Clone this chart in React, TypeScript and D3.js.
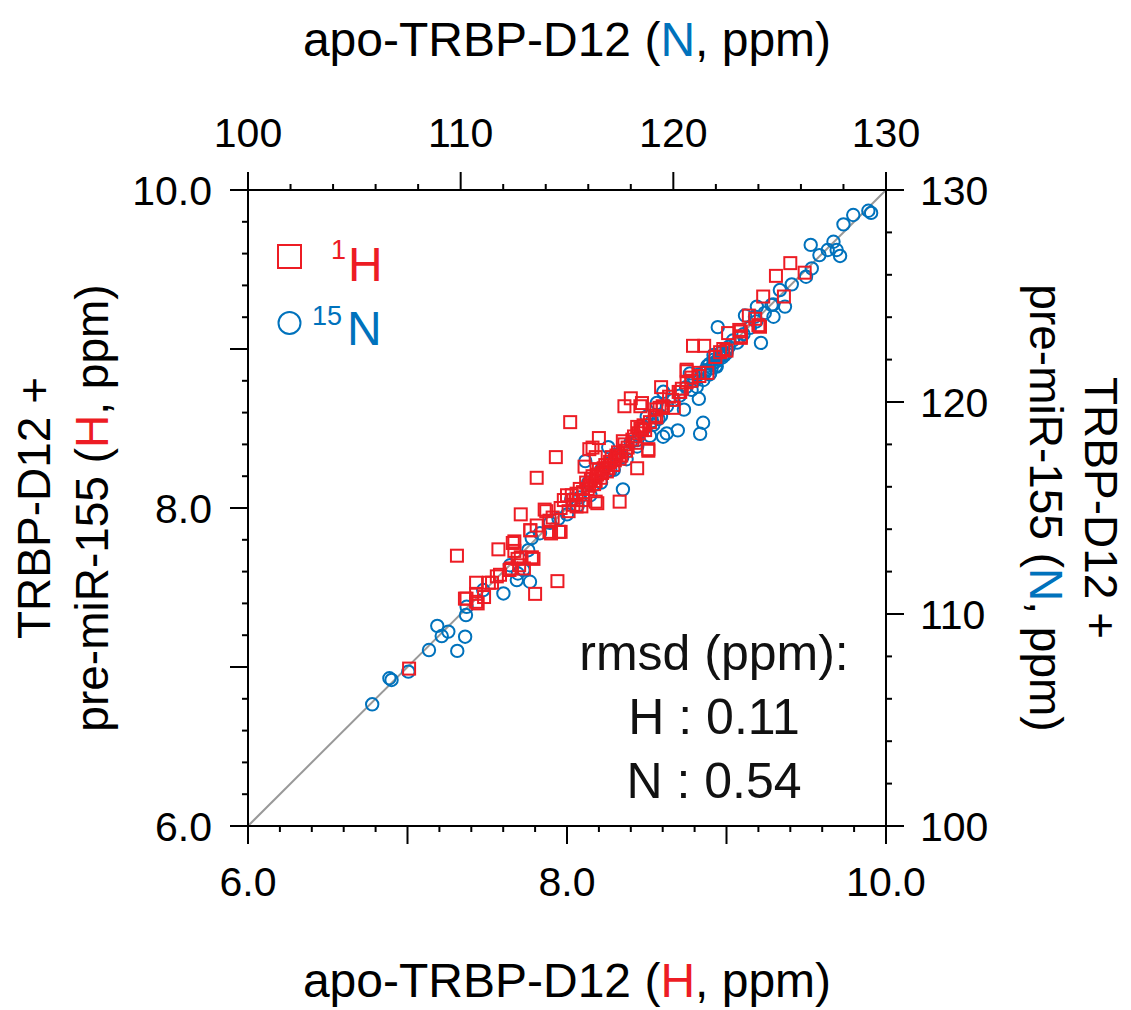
import React from "react";
import * as d3 from "d3";

// ---------- data ----------
// 1H chemical shifts (ppm): apo vs + pre-miR-155
const hApo = [
  8.02, 7.93, 7.81, 8.2, 7.71, 7.31, 7.94, 7.8, 8.33, 8.19, 8.44, 8.51, 8.4, 8.36, 8.47, 8.59, 8.79, 8.86, 8.98, 9.01,
  9.09, 9.09, 9.14, 9.18, 9.21, 9.23, 9.36, 9.31, 9.4, 9.49, 8.75, 8.83, 8.88, 8.75, 8.71, 8.64, 8.56, 8.6, 8.46, 8.14,
  8.18, 8.11, 8.03, 8.06, 7.86, 7.89, 7.96, 7.9, 7.81, 7.77, 7.67, 7.57, 7.69, 7.78, 7.64, 7.7, 7.56, 7.51, 7.43, 7.36,
  7.43, 7.48, 7.01, 8.46, 8.58, 8.67, 8.7, 8.44, 8.56, 8.48, 8.16, 8.51, 7.87, 7.91, 7.77, 7.89, 7.95, 7.66, 7.67, 7.71,
  7.79, 7.73, 7.65, 7.58, 7.53, 7.43, 7.37, 7.44, 8.0, 8.04, 8.1, 8.18, 8.09, 9.0, 9.08, 9.09, 9.2, 8.35, 8.49, 8.78,
  8.75, 8.83, 8.6, 7.96, 7.98, 8.01, 8.04, 8.06, 8.08, 8.1, 8.12, 8.14, 8.16, 8.18, 8.2, 8.22, 8.24, 8.26, 8.28, 8.3,
  8.32, 8.34, 8.36, 8.38, 8.41, 8.43, 8.45, 8.52, 8.55, 8.66, 8.72, 8.78, 8.93, 8.96, 8.15, 8.19, 8.23, 8.27, 8.31, 8.13,
  8.17, 8.21, 8.25, 8.29, 8.33, 8.37, 8.42, 8.47,
];
const hComplex = [
  8.54, 8.32, 8.19, 8.44, 7.96, 7.7, 7.54, 7.46, 8.04, 8.03, 8.25, 8.36, 8.69, 8.64, 8.66, 8.76, 9.02, 9.02, 9.0, 9.1,
  9.11, 9.07, 9.21, 9.19, 9.14, 9.33, 9.33, 9.46, 9.54, 9.48, 8.87, 8.83, 8.85, 8.79, 8.73, 8.7, 8.62, 8.63, 8.5, 8.37,
  8.32, 8.26, 8.08, 8.01, 7.99, 7.92, 7.85, 7.84, 7.89, 7.86, 7.79, 7.74, 7.68, 7.69, 7.61, 7.64, 7.57, 7.53, 7.53, 7.43,
  7.41, 7.44, 6.99, 8.64, 8.63, 8.63, 8.73, 8.51, 8.57, 8.52, 8.38, 8.37, 7.98, 7.94, 7.86, 7.85, 7.85, 7.78, 7.73, 7.69,
  7.68, 7.62, 7.62, 7.58, 7.53, 7.46, 7.43, 7.4, 8.08, 8.05, 8.05, 8.04, 8.01, 8.99, 9.12, 9.08, 9.15, 8.42, 8.49, 8.82,
  8.86, 8.85, 8.64, 8.0, 8.05, 7.98, 8.02, 8.09, 8.12, 8.1, 8.16, 8.14, 8.2, 8.17, 8.24, 8.22, 8.27, 8.25, 8.32, 8.3,
  8.35, 8.33, 8.4, 8.38, 8.43, 8.41, 8.47, 8.54, 8.58, 8.68, 8.75, 8.8, 8.95, 8.98, 8.18, 8.21, 8.25, 8.29, 8.33, 8.12,
  8.15, 8.19, 8.23, 8.27, 8.31, 8.36, 8.45, 8.49,
];

// 15N chemical shifts (ppm): apo vs + pre-miR-155
const nApo = [
  105.84, 106.65, 106.75, 107.54, 108.51, 108.9, 109.11, 109.42, 109.84, 110.21, 110.25, 110.28, 111.06, 112.01, 112.32,
  112.64, 112.95, 113.26, 113.18, 113.34, 113.73, 112.69, 117.63, 115.86, 116.94, 117.04, 120.21, 119.52, 121.26, 121.4,
  121.2, 120.5, 119.42, 119.22, 119.69, 120.86, 119.53, 119.06, 118.75, 122.09, 124.12, 123.37, 123.84, 123.93, 124.62,
  125.25, 125.01, 125.57, 126.24, 126.51, 126.87, 126.46, 127.26, 127.53, 127.68, 127.84, 128.0, 128.46, 129.17, 129.3,
  123.14, 122.51, 121.89, 124.71, 121.88, 122.19, 122.04, 121.73, 121.41, 121.1, 120.78, 114.2, 114.6, 115.2, 115.6,
  116.0, 116.3, 116.6, 117.0, 117.3, 117.6, 118.0, 118.3, 118.6, 119.0, 119.3, 119.7, 120.0, 120.3, 120.6, 121.0, 121.2,
  121.5, 121.7, 122.0, 122.2, 122.4, 122.6, 122.8, 123.0, 123.3, 123.6, 123.9, 124.3, 124.7, 121.5, 121.6, 121.8, 121.9,
  122.1, 122.3, 122.0, 121.7, 122.3, 122.5, 115.0, 115.5, 116.1, 116.6, 117.2, 117.8, 118.3, 118.9,
];
const nComplex = [
  105.74, 106.97, 106.89, 107.28, 108.3, 109.44, 108.96, 109.17, 108.26, 108.93, 109.95, 110.34, 111.13, 110.97, 112.3,
  111.6, 112.08, 111.52, 113.01, 113.58, 113.81, 111.91, 115.88, 117.21, 117.87, 116.77, 118.66, 118.36, 118.5, 119.02,
  120.15, 119.64, 119.34, 119.95, 118.52, 120.57, 120.48, 118.92, 119.31, 123.53, 122.79, 124.08, 124.02, 124.5, 124.58,
  124.5, 125.28, 125.55, 125.91, 126.3, 126.93, 127.41, 127.17, 127.56, 127.17, 126.89, 128.38, 128.82, 129.02, 128.92,
  123.08, 122.46, 122.22, 124.02, 121.83, 122.14, 121.67, 121.35, 121.04, 120.72, 121.35, 114.3, 114.5, 115.4, 115.5,
  116.2, 116.1, 116.8, 117.1, 117.5, 117.4, 118.1, 118.2, 118.7, 119.1, 119.2, 119.8, 120.1, 120.3, 120.7, 121.0, 121.3,
  121.5, 121.8, 121.9, 122.3, 122.2, 122.6, 122.9, 122.8, 123.2, 123.5, 123.8, 124.2, 124.6, 121.4, 121.7, 121.6, 122.0,
  122.0, 122.4, 121.7, 121.3, 122.1, 122.3, 114.7, 115.1, 115.6, 116.2, 116.8, 117.3, 117.9, 118.4,
];

const hTickValues = [6, 8, 10];
const hTickLabels = ["6.0", "8.0", "10.0"];
const nTickValues = [100, 110, 120, 130];
const nTickLabels = ["100", "110", "120", "130"];
const rmsdLines = ["rmsd (ppm):", "H : 0.11", "N : 0.54"];

// ---------- style ----------
const RED = "#ED1C24";
const BLUE = "#0072BC";
const FONT = "'Liberation Sans', Arial, Helvetica, sans-serif";

const W = 1131;
const H = 1010;
const L = 248, R = 886, T = 190, B = 826;

export default function App() {
  const xH = d3.scaleLinear().domain([6, 10]).range([L, R]);
  const yH = d3.scaleLinear().domain([6, 10]).range([B, T]);
  const xN = d3.scaleLinear().domain([100, 130]).range([L, R]);
  const yN = d3.scaleLinear().domain([100, 130]).range([B, T]);

  const MAJ = 18, MIN = 6;
  const hMinor = xH.ticks(20);
  const hMajor = xH.ticks(4);
  const nMinor = xN.ticks(15);
  const nMajor = xN.ticks(3);
  const isMajorH = (v: number) => hMajor.some((m) => Math.abs(m - v) < 1e-6);
  const isMajorN = (v: number) => nMajor.some((m) => Math.abs(m - v) < 1e-6);

  const blue = nApo.map((v, i) => [v, nComplex[i]]);
  const red = hApo.map((v, i) => [v, hComplex[i]]);
  const sq = 12;
  const TF = 41;

  return (
    <svg width={W} height={H} style={{ position: "absolute", left: 0, top: 0, background: "#fff" }} fontFamily={FONT}>
      <rect x={0} y={0} width={W} height={H} fill="#fff" />
      {/* diagonal */}
      <line x1={xH(6)} y1={yH(6)} x2={xH(10)} y2={yH(10)} stroke="#999" strokeWidth={2} />

      {/* blue circles */}
      {blue.map((d, i) => (
        <circle key={"b" + i} cx={xN(d[0])} cy={yN(d[1])} r={6.2} fill="none" stroke={BLUE} strokeWidth={2} />
      ))}
      {/* red squares */}
      {red.map((d, i) => (
        <rect key={"r" + i} x={xH(d[0]) - sq / 2} y={yH(d[1]) - sq / 2} width={sq} height={sq} fill="none" stroke={RED} strokeWidth={2} />
      ))}

      {/* frame */}
      <rect x={L} y={T} width={R - L} height={B - T} fill="none" stroke="#000" strokeWidth={2} />

      {/* bottom / left H ticks */}
      {hMinor.map((v, i) => {
        const len = isMajorH(v) ? MAJ : MIN;
        return (
          <g key={"ht" + i}>
            <line x1={xH(v)} x2={xH(v)} y1={B} y2={B + len} stroke="#000" strokeWidth={2} />
            <line x1={L} x2={L - len} y1={yH(v)} y2={yH(v)} stroke="#000" strokeWidth={2} />
          </g>
        );
      })}
      {/* top / right N ticks */}
      {nMinor.map((v, i) => {
        const len = isMajorN(v) ? MAJ : MIN;
        return (
          <g key={"nt" + i}>
            <line x1={xN(v)} x2={xN(v)} y1={T} y2={T - len} stroke="#000" strokeWidth={2} />
            <line x1={R} x2={R + len} y1={yN(v)} y2={yN(v)} stroke="#000" strokeWidth={2} />
          </g>
        );
      })}

      {/* tick labels */}
      {hTickValues.map((v, i) => (
        <g key={"hl" + i} fontSize={TF} fill="#000">
          <text x={xH(v)} y={B + 70} textAnchor="middle">{hTickLabels[i]}</text>
          <text x={L - 36} y={yH(v) + 15} textAnchor="end">{hTickLabels[i]}</text>
        </g>
      ))}
      {nTickValues.map((v, i) => (
        <g key={"nl" + i} fontSize={TF} fill="#000">
          <text x={xN(v)} y={T - 43} textAnchor="middle">{nTickLabels[i]}</text>
          <text x={R + 34} y={yN(v) + 15} textAnchor="start">{nTickLabels[i]}</text>
        </g>
      ))}

      {/* axis titles */}
      <text x={(L + R) / 2} y={56} textAnchor="middle" fontSize={48}>
        apo-TRBP-D12 (<tspan fill={BLUE}>N</tspan>, ppm)
      </text>
      <text x={(L + R) / 2} y={997} textAnchor="middle" fontSize={48}>
        apo-TRBP-D12 (<tspan fill={RED}>H</tspan>, ppm)
      </text>
      <g transform={`translate(50, ${(T + B) / 2}) rotate(-90)`}>
        <text x={0} y={0} textAnchor="middle" fontSize={46}>TRBP-D12 +</text>
      </g>
      <g transform={`translate(108, ${(T + B) / 2}) rotate(-90)`}>
        <text x={0} y={0} textAnchor="middle" fontSize={46}>
          pre-miR-155 (<tspan fill={RED}>H</tspan>, ppm)
        </text>
      </g>
      <g transform={`translate(1085, ${(T + B) / 2}) rotate(90)`}>
        <text x={0} y={0} textAnchor="middle" fontSize={46}>TRBP-D12 +</text>
      </g>
      <g transform={`translate(1030, ${(T + B) / 2}) rotate(90)`}>
        <text x={0} y={0} textAnchor="middle" fontSize={46}>
          pre-miR-155 (<tspan fill={BLUE}>N</tspan>, ppm)
        </text>
      </g>

      {/* legend */}
      <rect x={278} y={245} width={23} height={23} fill="none" stroke={RED} strokeWidth={2} />
      <text x={331} y={259} fontSize={27} fill={RED}>1</text>
      <text x={348} y={281} fontSize={48} fill={RED}>H</text>
      <circle cx={289.5} cy={323} r={11} fill="none" stroke={BLUE} strokeWidth={2} />
      <text x={312} y={325} fontSize={27} fill={BLUE}>15</text>
      <text x={347} y={345} fontSize={48} fill={BLUE}>N</text>

      {/* rmsd annotation */}
      {rmsdLines.map((s, i) => (
        <text key={"rm" + i} x={714} y={670 + i * 64} textAnchor="middle" fontSize={50} fill="#111">
          {s}
        </text>
      ))}
    </svg>
  );
}
